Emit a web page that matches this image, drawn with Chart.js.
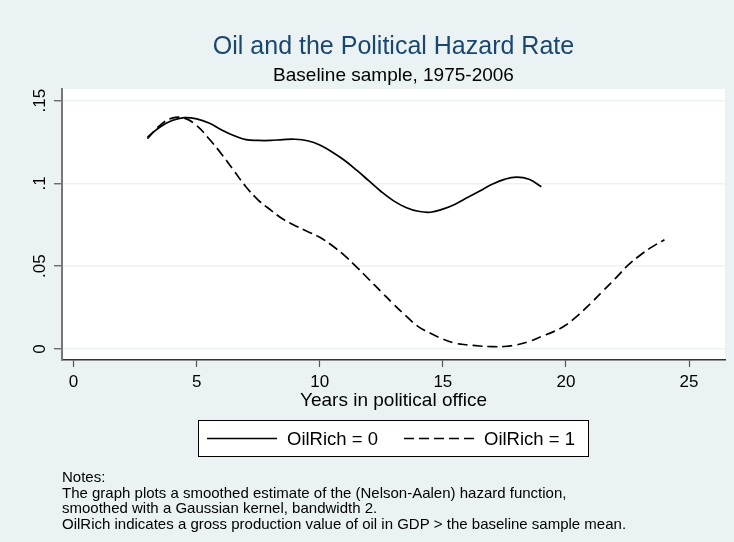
<!DOCTYPE html>
<html>
<head>
<meta charset="utf-8">
<script src="https://cdn.jsdelivr.net/npm/chart.js@4.4.0/dist/chart.umd.min.js"></script>
<style>
  html, body { margin: 0; padding: 0; background: #EAF2F3; }
  canvas { display: block; }
</style>
</head>
<body>
<canvas id="chart" width="734" height="542"></canvas>
<script>
// données
const years0 = [3, 3.5, 4, 4.5, 5, 5.5, 6, 6.5, 7, 7.5, 8, 8.5, 9, 9.5, 10, 10.5, 11, 11.5, 12, 12.5, 13, 13.5, 14, 14.5, 15, 15.5, 16, 16.5, 17, 17.5, 18, 18.5, 19];
const hazard0 = [.128, .134, .138, .1398, .139, .1365, .1325, .129, .1265, .126, .126, .1265, .1267, .1258, .1233, .119, .114, .108, .1015, .095, .0895, .0855, .0832, .0826, .0845, .0875, .0915, .0955, .0995, .1025, .1038, .1025, .098];
const years1 = [3, 3.5, 4, 4.5, 5, 5.5, 6, 6.5, 7, 7.5, 8, 8.5, 9, 9.5, 10, 10.5, 11, 11.5, 12, 12.5, 13, 13.5, 14, 14.5, 15, 15.5, 16, 16.5, 17, 17.5, 18, 18.5, 19, 19.5, 20, 20.5, 21, 21.5, 22, 22.5, 23, 23.5, 24];
const hazard1 = [.127, .135, .1395, .1395, .135, .127, .118, .108, .098, .09, .084, .0785, .0745, .071, .0675, .0625, .0565, .0495, .042, .0345, .027, .02, .0135, .0095, .006, .0035, .0025, .0018, .0014, .0015, .0025, .0045, .0075, .0105, .0145, .0205, .0275, .035, .0425, .0503, .0565, .0617, .066];
const seriesNames = ['OilRich = 0', 'OilRich = 1'];
const xTicks = [0, 5, 10, 15, 20, 25];
const yTicks = [0, .05, .1, .15];
const yTickLabels = ['0', '.05', '.1', '.15'];
const notes = [
  'Notes:',
  'The graph plots a smoothed estimate of the (Nelson-Aalen) hazard function,',
  'smoothed with a Gaussian kernel, bandwidth 2.',
  'OilRich indicates a gross production value of oil in GDP > the baseline sample mean.'
];

const FONT = '"Liberation Sans", Arial, sans-serif';
const BG = '#EAF2F3';

const pts = (xs, ys) => xs.map((x, i) => ({ x: x, y: ys[i] }));

const decor = {
  id: 'decor',
  beforeDraw(chart) {
    const { ctx, chartArea: a } = chart;
    ctx.save();
    ctx.fillStyle = BG;
    ctx.fillRect(0, 0, chart.width, chart.height);
    ctx.fillStyle = '#ffffff';
    ctx.fillRect(a.left, a.top, a.right - a.left, a.bottom - a.top);
    ctx.restore();
  },
  afterDraw(chart) {
    const { ctx, chartArea: a } = chart;
    const cx = (a.left + a.right) / 2;
    const ys = chart.scales.y;
    ctx.save();
    ctx.textAlign = 'center';
    ctx.textBaseline = 'alphabetic';

    // titres
    ctx.fillStyle = '#1A476F';
    ctx.font = '25px ' + FONT;
    ctx.fillText('Oil and the Political Hazard Rate', cx, 54);
    ctx.fillStyle = '#000';
    ctx.font = '19px ' + FONT;
    ctx.fillText('Baseline sample, 1975-2006', cx, 81);

    // étiquettes de l'axe y (tournées)
    ctx.font = '17px ' + FONT;
    ctx.textBaseline = 'middle';
    yTicks.forEach((v, i) => {
      ctx.save();
      ctx.translate(40, ys.getPixelForValue(v));
      ctx.rotate(-Math.PI / 2);
      ctx.fillText(yTickLabels[i], 0, 0);
      ctx.restore();
    });

    // titre de l'axe x
    ctx.textBaseline = 'alphabetic';
    ctx.font = '19px ' + FONT;
    ctx.fillText('Years in political office', cx, 406);

    // légende
    const bx = 198, by = 420, bw = 390, bh = 36;
    ctx.fillStyle = '#fff';
    ctx.fillRect(bx, by, bw, bh);
    ctx.strokeStyle = '#000';
    ctx.lineWidth = 1;
    ctx.strokeRect(bx + 0.5, by + 0.5, bw, bh);
    const items = [{ x0: 207, x1: 277, tx: 287 }, { x0: 404, x1: 474, tx: 484 }];
    chart.data.datasets.forEach((ds, i) => {
      const it = items[i];
      const ly = by + bh / 2 + 0.5;
      ctx.strokeStyle = ds.borderColor;
      ctx.lineWidth = ds.borderWidth;
      ctx.setLineDash(ds.borderDash || []);
      ctx.beginPath();
      ctx.moveTo(it.x0, ly);
      ctx.lineTo(it.x1, ly);
      ctx.stroke();
      ctx.setLineDash([]);
      ctx.fillStyle = '#000';
      ctx.textAlign = 'left';
      ctx.textBaseline = 'middle';
      ctx.font = '18.5px ' + FONT;
      ctx.fillText(ds.label, it.tx, ly + 1);
    });

    // notes
    ctx.font = '15px ' + FONT;
    ctx.textAlign = 'left';
    ctx.textBaseline = 'alphabetic';
    ctx.fillStyle = '#000';
    notes.forEach((t, i) => ctx.fillText(t, 62, 482 + i * 15.5));
    ctx.restore();
  }
};

new Chart(document.getElementById('chart'), {
  type: 'line',
  data: {
    datasets: [
      {
        label: seriesNames[0],
        data: pts(years0, hazard0),
        borderColor: '#000',
        borderWidth: 1.7,
        pointRadius: 0,
        tension: 0.4,
        fill: false
      },
      {
        label: seriesNames[1],
        data: pts(years1, hazard1),
        borderColor: '#000',
        borderWidth: 1.7,
        borderDash: [10, 5],
        pointRadius: 0,
        tension: 0.4,
        fill: false
      }
    ]
  },
  options: {
    responsive: false,
    animation: false,
    events: [],
    layout: { padding: { top: 89, right: 9, bottom: 0, left: 0 } },
    plugins: { legend: { display: false }, tooltip: { enabled: false } },
    scales: {
      x: {
        type: 'linear',
        min: -0.47,
        max: 26.46,
        afterBuildTicks: s => { s.ticks = xTicks.map(v => ({ value: v })); },
        afterFit: s => { s.height = 542 - 360; },
        grid: { drawOnChartArea: false, drawTicks: true, tickLength: 7, tickColor: '#555', tickWidth: 1.2 },
        border: { display: true, color: '#333', width: 1.5 },
        ticks: { color: '#000', font: { family: FONT, size: 17 }, padding: 5, maxRotation: 0, callback: v => String(v) }
      },
      y: {
        type: 'linear',
        min: -0.00665,
        max: 0.15707,
        afterBuildTicks: s => { s.ticks = yTicks.map(v => ({ value: v })); },
        afterFit: s => { s.width = 62; },
        grid: { color: BG, lineWidth: 1.5, drawTicks: true, tickLength: 8, tickColor: '#555', tickWidth: 1.2 },
        border: { display: true, color: '#777', width: 2 },
        ticks: { display: false }
      }
    }
  },
  plugins: [decor]
});
</script>
</body>
</html>
